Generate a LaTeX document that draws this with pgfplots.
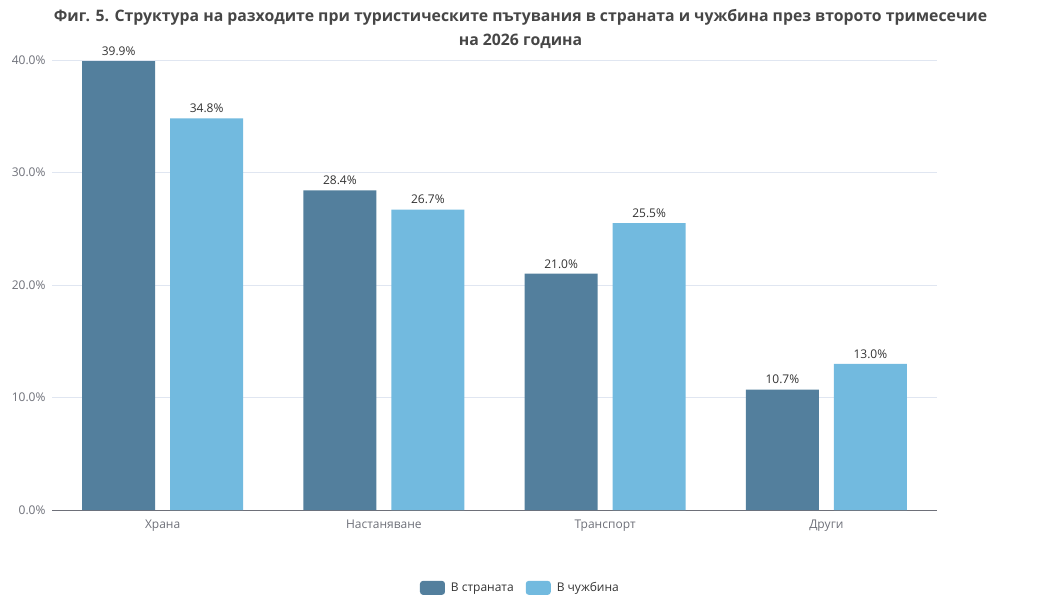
\documentclass[border=0pt]{standalone}
\usepackage{pgfplots}
\pgfplotsset{compat=1.18}
\usepackage{fontspec}
\setmainfont{Open Sans}
\definecolor{dark}{HTML}{537F9D}
\definecolor{light}{HTML}{72BADF}
\definecolor{gridc}{HTML}{E0E6F1}
\definecolor{axc}{HTML}{6E7079}
\definecolor{titc}{HTML}{464646}
\begin{document}
\begin{tikzpicture}
\path[use as bounding box] (0,0) rectangle (1041pt,600pt);
\begin{axis}[
  at={(52pt,90pt)}, anchor=south west,
  scale only axis, width=885pt, height=450pt,
  /pgf/number format/assume math mode=true,
  ymin=0, ymax=40, ytick={0,10,20,30,40},
  xmin=-0.5, xmax=3.5,
  xtick={0,1,2,3},
  xticklabels={Храна,Настаняване,Транспорт,Други},
  extra x ticks={-0.5,0.5,1.5,2.5,3.5},
  extra x tick labels={},
  extra x tick style={major tick length=5pt, tick style={axc, line width=0.8pt}, tick align=outside, grid=none},
  major x tick style={draw=none},
  ytick style={draw=none},
  axis x line*=bottom, axis y line*=left,
  y axis line style={draw=none},
  x axis line style={axc, line width=0.8pt, -},
  ymajorgrids, grid style={gridc, line width=0.8pt},
  yticklabel={\pgfmathprintnumber[fixed,fixed zerofill,precision=1]{\tick}\%},
  yticklabel style={font=\fontsize{12}{14}\selectfont, text=axc, anchor=east, xshift=-3pt},
  xticklabel style={font=\fontsize{12}{14}\selectfont, text=axc, yshift=-2pt},
  ybar, bar width=73pt,
  nodes near coords={\pgfmathprintnumber[fixed,fixed zerofill,precision=1]{\pgfplotspointmeta}\%},
  nodes near coords style={font=\fontsize{12}{14}\selectfont, text=black!80, yshift=2pt},
  legend columns=2,
  legend style={at={(0.5293,-0.173)}, anchor=center, draw=none, fill=none,
    font=\fontsize{12}{14}\selectfont, text=black!80,
    /tikz/every even column/.append style={column sep=10pt},
    /tikz/every odd column/.append style={column sep=4pt}},
  legend image code/.code={\path[#1, draw=none, rounded corners=3pt] (0pt,-7pt) rectangle (25pt,7pt);},
  clip=false,
]
\addplot[fill=dark, draw=none, bar shift=-44pt] coordinates {(0,39.9) (1,28.4) (2,21.0) (3,10.7)};
\addplot[fill=light, draw=none, bar shift=44pt] coordinates {(0,34.8) (1,26.7) (2,25.5) (3,13.0)};
\legend{В страната, В чужбина}
\end{axis}
\node[font=\bfseries\fontsize{15.8}{24}\selectfont, align=center, text=titc] at (520.5pt,571pt)
 {Фиг. 5. Структура на разходите при туристическите пътувания в страната и чужбина през второто тримесечие\\на 2026 година};
\end{tikzpicture}
\end{document}
